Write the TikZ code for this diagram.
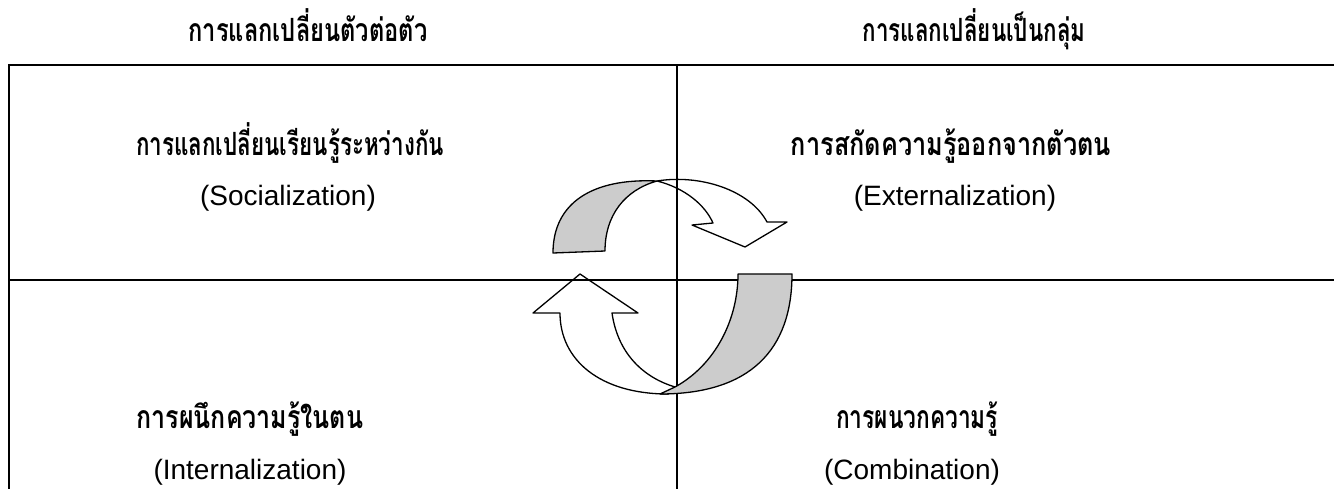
\documentclass[tikz,border=0pt]{standalone}
\usepackage{fontspec}
\setmainfont{Liberation Sans}
\newfontfamily\thaifont[Script=Thai]{Loma}
\newcommand{\thx}[2]{\scalebox{#1}[1]{#2}}
\begin{document}
\begin{tikzpicture}[x=1pt,y=-1pt,
  frame/.style={line width=2pt,line cap=rect},
  band/.style={line width=1.3pt,line join=round},
  under/.style={band,fill=gray!40},
  thtext/.style={anchor=base,inner sep=0pt,font=\thaifont\bfseries\fontsize{32}{36}\selectfont},
  entext/.style={anchor=base,inner sep=0pt,font=\fontsize{28}{32}\selectfont}]
\useasboundingbox (0,0) rectangle (1334,488);
% frame
\draw[frame] (9,488) -- (9,65) -- (1334,65);
\draw[frame] (9,280) -- (1334,280);
\draw[frame] (677,65) -- (677,488);
% headers
\node[thtext] (h1) at (308,41) {\thx{0.74}{การแลกเปลี่ยนตัวต่อตัว}};
\node[thtext] (h2) at (974,41) {\thx{0.70}{การแลกเปลี่ยนเป็นกลุ่ม}};
% quadrant texts
\node[thtext] (q1) at (290,155) {\thx{0.70}{การแลกเปลี่ยนเรียนรู้ระหว่างกัน}};
\node[entext] (e1) at (288,205) {(Socialization)};
\node[thtext] (q2) at (951,155) {\thx{0.79}{การสกัดความรู้ออกจากตัวตน}};
\node[entext] (e2) at (955,205) {(Externalization)};
\node[thtext] (q3) at (250,428) {\thx{0.78}{การผนึกความรู้ในตน}};
\node[entext] (e3) at (250,479) {(Internalization)};
\node[thtext] (q4) at (917,428) {\thx{0.71}{การผนวกความรู้}};
\node[entext] (e4) at (912,479) {(Combination)};
% top arrow: white front part
\draw[band] (657,181) .. controls (700,174) and (750,190) .. (767,222)
  -- (787,222) -- (745,247) -- (692,225) -- (713,223)
  .. controls (705,205) and (685,188) .. (657,181) -- cycle;
% top arrow: grey back part
\draw[under] (553,253) .. controls (553,203) and (592,178) .. (657,181)
  .. controls (625,190) and (605,215) .. (605,251) -- cycle;
% bottom arrow: white front part
\draw[band] (668,394) .. controls (600,394) and (560,360) .. (560,313)
  -- (533,313) -- (580,274) -- (638,313) -- (612,313)
  .. controls (618,355) and (645,378) .. (675,387) -- cycle;
% bottom arrow: grey back part
\draw[under] (792,274) .. controls (792,350) and (750,394) .. (660,394)
  -- (675,387) .. controls (715,365) and (738,320) .. (738,274) -- cycle;
\end{tikzpicture}
\end{document}
